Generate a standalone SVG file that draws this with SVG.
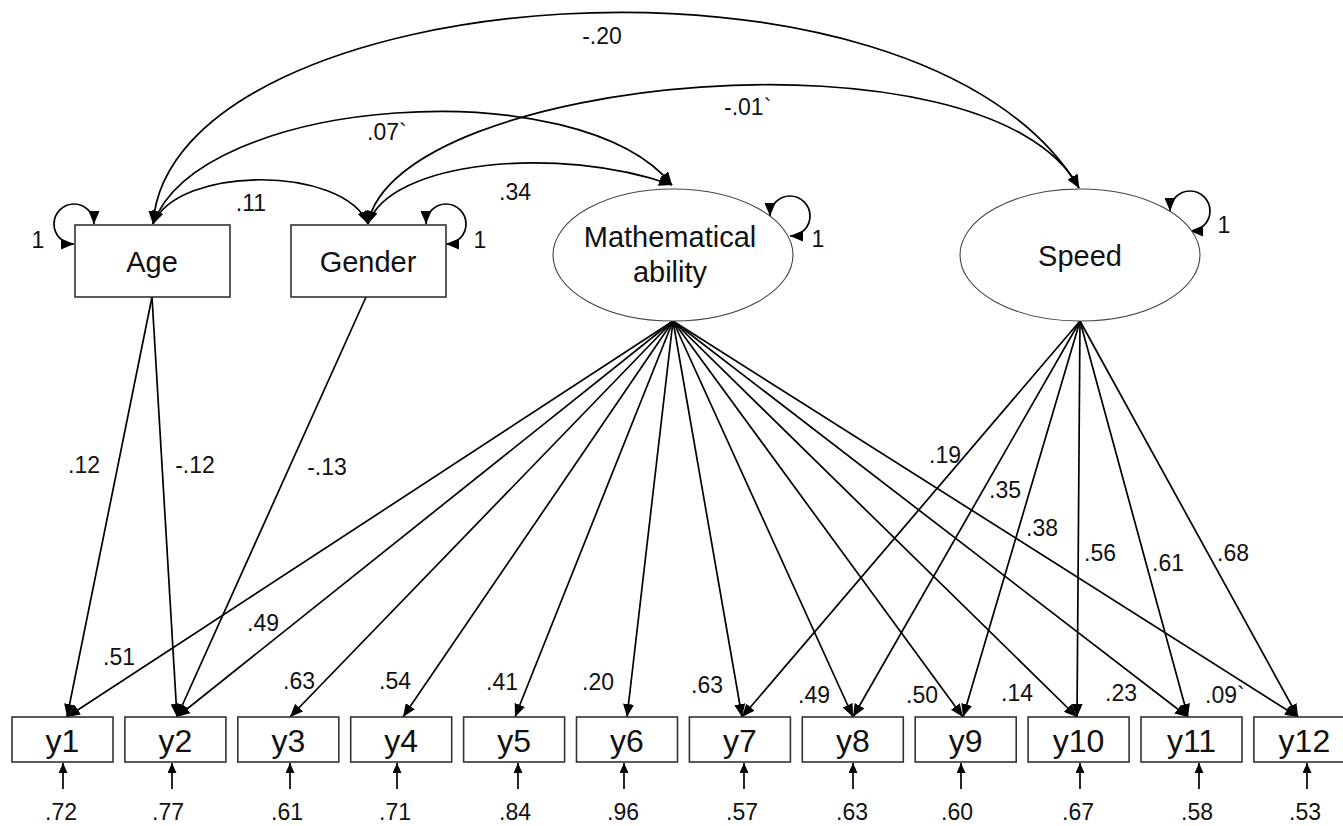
<svg xmlns="http://www.w3.org/2000/svg" width="1343" height="826" viewBox="0 0 1343 826">
<defs>
<marker id="ah" viewBox="0 0 13 11" refX="13" refY="5.5" markerWidth="13" markerHeight="11" markerUnits="userSpaceOnUse" orient="auto-start-reverse">
<path d="M0,0 L13,5.5 L0,11 z" fill="#000"/>
</marker>
<marker id="ahs" viewBox="0 0 10 9" refX="10" refY="4.5" markerWidth="10" markerHeight="9" markerUnits="userSpaceOnUse" orient="auto-start-reverse">
<path d="M0,0 L10,4.5 L0,9 z" fill="#000"/>
</marker>
</defs>
<style>
.bx{fill:#fff;stroke:#333;stroke-width:1.6}
.el{fill:#fff;stroke:#444;stroke-width:1.1}
.nt{font-family:"Liberation Sans",Arial,sans-serif;font-size:29px;fill:#111;text-anchor:middle}
.yt{font-family:"Liberation Sans",Arial,sans-serif;font-size:32px;fill:#111;text-anchor:middle}
.lb{font-family:"Liberation Sans",Arial,sans-serif;font-size:23px;fill:#111;text-anchor:middle}
.lbs{font-family:"Liberation Sans",Arial,sans-serif;font-size:23px;fill:#111;text-anchor:start}
.c{fill:none;stroke:#000;stroke-width:1.7;marker-end:url(#ah)}
.cc{fill:none;stroke:#000;stroke-width:1.7;marker-start:url(#ah);marker-end:url(#ah)}
.e{fill:none;stroke:#000;stroke-width:1.7;marker-end:url(#ahs)}
</style>
<rect width="1343" height="826" fill="#fff"/>

<g id="connectors">
<path class="cc" d="M153,224 C178,165 343,165 368,224"/>
<path class="cc" d="M153,224 C200,95 580,70 672,185"/>
<path class="cc" d="M153,224 C170,-20 920,-80 1079,188"/>
<path class="cc" d="M368,224 C395,75 990,20 1079,188"/>
<path class="cc" d="M368,224 C390,160 560,145 672,185"/>
<path class="cc" d="M94,224 A20,20 0 1 0 74,244"/>
<path class="cc" d="M426,224 A20,20 0 1 1 446,244"/>
<path class="cc" d="M770,216 A20,20 0 1 1 790,236"/>
<path class="cc" d="M1170,211 A20,20 0 1 1 1190,231"/>
<path class="c" d="M152,297 L67,717"/>
<path class="c" d="M152,297 L177,717"/>
<path class="c" d="M366,297 L177,717"/>
<path class="c" d="M673,321 L67,717"/>
<path class="c" d="M673,321 L177,717"/>
<path class="c" d="M673,321 L290,717"/>
<path class="c" d="M673,321 L403,717"/>
<path class="c" d="M673,321 L515,717"/>
<path class="c" d="M673,321 L627,717"/>
<path class="c" d="M673,321 L742,717"/>
<path class="c" d="M673,321 L853,717"/>
<path class="c" d="M673,321 L963,717"/>
<path class="c" d="M673,321 L1077,717"/>
<path class="c" d="M673,321 L1188,717"/>
<path class="c" d="M673,321 L1298,717"/>
<path class="c" d="M1080,321 L742,717"/>
<path class="c" d="M1080,321 L853,717"/>
<path class="c" d="M1080,321 L963,717"/>
<path class="c" d="M1080,321 L1077,717"/>
<path class="c" d="M1080,321 L1188,717"/>
<path class="c" d="M1080,321 L1298,717"/>
<path class="e" d="M63,789 L63,763"/>
<path class="e" d="M172,789 L172,763"/>
<path class="e" d="M290,789 L290,763"/>
<path class="e" d="M397,789 L397,763"/>
<path class="e" d="M518,789 L518,763"/>
<path class="e" d="M624,789 L624,763"/>
<path class="e" d="M744,789 L744,763"/>
<path class="e" d="M853,789 L853,763"/>
<path class="e" d="M961,789 L961,763"/>
<path class="e" d="M1080,789 L1080,763"/>
<path class="e" d="M1199,789 L1199,763"/>
<path class="e" d="M1307,789 L1307,763"/>
</g>

<g id="labels">
<text class="lb" x="602" y="44">-.20</text>
<text class="lbs" x="724" y="115">-.01`</text>
<text class="lbs" x="367" y="140">.07`</text>
<text class="lb" x="251" y="211">.11</text>
<text class="lb" x="515" y="200">.34</text>
<text class="lb" x="38" y="248">1</text>
<text class="lb" x="480" y="248">1</text>
<text class="lb" x="818" y="247">1</text>
<text class="lb" x="1224" y="233">1</text>
<text class="lb" x="84" y="473">.12</text>
<text class="lb" x="195" y="473">-.12</text>
<text class="lb" x="327" y="475">-.13</text>
<text class="lb" x="263" y="631">.49</text>
<text class="lb" x="119" y="665">.51</text>
<text class="lb" x="299" y="689">.63</text>
<text class="lb" x="395" y="689">.54</text>
<text class="lb" x="502" y="690">.41</text>
<text class="lb" x="598" y="690">.20</text>
<text class="lb" x="707" y="693">.63</text>
<text class="lb" x="814" y="703">.49</text>
<text class="lb" x="922" y="703">.50</text>
<text class="lb" x="1017" y="701">.14</text>
<text class="lb" x="1121" y="701">.23</text>
<text class="lbs" x="1205" y="703">.09`</text>
<text class="lb" x="945" y="463">.19</text>
<text class="lb" x="1005" y="498">.35</text>
<text class="lb" x="1042" y="536">.38</text>
<text class="lb" x="1100" y="561">.56</text>
<text class="lb" x="1168" y="571">.61</text>
<text class="lb" x="1233" y="561">.68</text>
<text class="lb" x="61" y="820">.72</text>
<text class="lb" x="168" y="820">.77</text>
<text class="lb" x="287" y="820">.61</text>
<text class="lb" x="395" y="820">.71</text>
<text class="lb" x="515" y="820">.84</text>
<text class="lb" x="623" y="820">.96</text>
<text class="lb" x="742" y="820">.57</text>
<text class="lb" x="852" y="820">.63</text>
<text class="lb" x="957" y="820">.60</text>
<text class="lb" x="1078" y="820">.67</text>
<text class="lb" x="1197" y="820">.58</text>
<text class="lb" x="1305" y="820">.53</text>
</g>

<g id="node-age"><rect class="bx" x="75" y="225" width="155" height="72"/><text class="nt" x="152" y="272">Age</text></g>
<g id="node-gender"><rect class="bx" x="291" y="225" width="155" height="72"/><text class="nt" x="368" y="272">Gender</text></g>
<g id="node-math"><ellipse class="el" cx="673" cy="255" rx="120" ry="66"/><text class="nt" x="670" y="247">Mathematical</text><text class="nt" x="670" y="282">ability</text></g>
<g id="node-speed"><ellipse class="el" cx="1080" cy="255" rx="120" ry="66"/><text class="nt" x="1080" y="266">Speed</text></g>

<g id="node-y1"><rect class="bx" x="12" y="717" width="101" height="45"/><text class="yt" x="62.5" y="752">y1</text></g>
<g id="node-y2"><rect class="bx" x="124.9" y="717" width="101" height="45"/><text class="yt" x="175.4" y="752">y2</text></g>
<g id="node-y3"><rect class="bx" x="237.8" y="717" width="101" height="45"/><text class="yt" x="288.3" y="752">y3</text></g>
<g id="node-y4"><rect class="bx" x="350.7" y="717" width="101" height="45"/><text class="yt" x="401.2" y="752">y4</text></g>
<g id="node-y5"><rect class="bx" x="463.6" y="717" width="101" height="45"/><text class="yt" x="514.1" y="752">y5</text></g>
<g id="node-y6"><rect class="bx" x="576.5" y="717" width="101" height="45"/><text class="yt" x="627" y="752">y6</text></g>
<g id="node-y7"><rect class="bx" x="689.4" y="717" width="101" height="45"/><text class="yt" x="739.9" y="752">y7</text></g>
<g id="node-y8"><rect class="bx" x="802.3" y="717" width="101" height="45"/><text class="yt" x="852.8" y="752">y8</text></g>
<g id="node-y9"><rect class="bx" x="915.2" y="717" width="101" height="45"/><text class="yt" x="965.7" y="752">y9</text></g>
<g id="node-y10"><rect class="bx" x="1028.1" y="717" width="101" height="45"/><text class="yt" x="1078.6" y="752">y10</text></g>
<g id="node-y11"><rect class="bx" x="1141" y="717" width="101" height="45"/><text class="yt" x="1191.5" y="752">y11</text></g>
<g id="node-y12"><rect class="bx" x="1253.9" y="717" width="101" height="45"/><text class="yt" x="1304.4" y="752">y12</text></g>
</svg>
